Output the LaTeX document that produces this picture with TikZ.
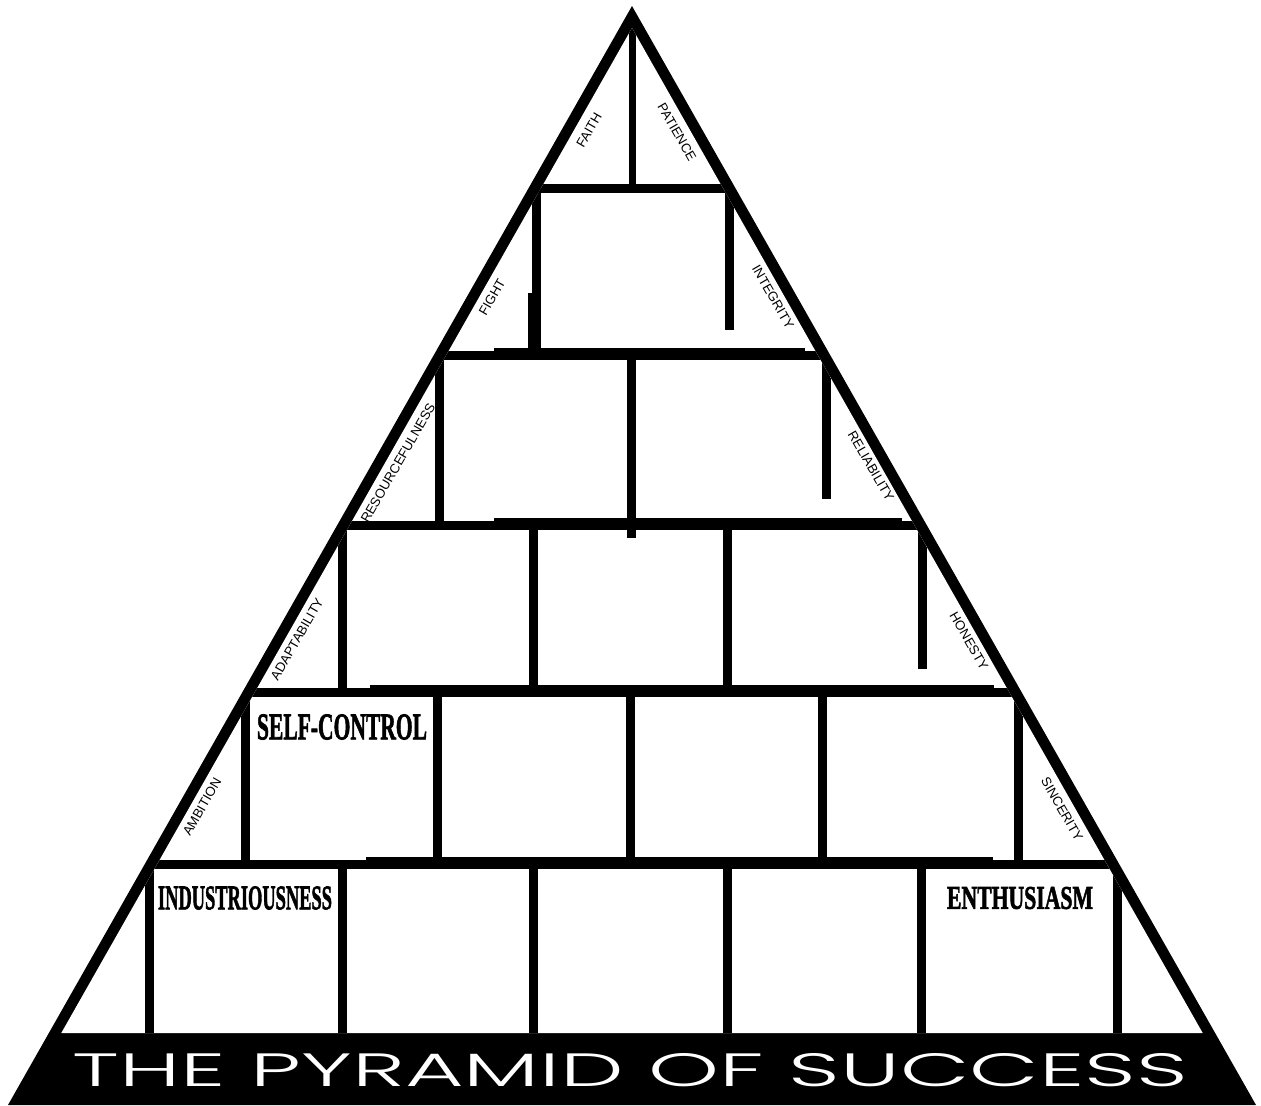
\documentclass[tikz,border=0pt]{standalone}
\usepackage{fontspec}
\setmainfont{Liberation Serif}
\setsansfont{Liberation Sans}
\newfontfamily\pyrtitle{Poppins Light}
\newfontfamily\blockfont{Liberation Serif}[BoldFeatures={FakeBold=2}]
\tikzset{
  wall/.style={line width=1.8mm},
  thickwall/.style={line width=2.4mm},
  trait/.style={font=\sffamily\fontsize{7.5}{8}\selectfont, inner sep=0pt},
  block/.style={inner sep=0pt, font=\blockfont\bfseries},
}

\begin{document}
\begin{tikzpicture}[x=0.2mm,y=-0.2mm]
  \useasboundingbox (0,0) rectangle (1261,1106);
  % frame and base band
  \fill (632,6) -- (8,1105) -- (1256,1105) -- cycle;
  \fill[white] (632,28) -- (61.3,1033) -- (1202.7,1033) -- cycle;
  \begin{scope}
    \clip (632,28) -- (61.3,1033) -- (1202.7,1033) -- cycle;
    % courses
    \foreach \y in {188.5,356,526,693,865}
      \draw[wall] (0,\y) -- (1261,\y);
    \foreach \y/\a/\b in {356/494/805, 526/494/902, 693/370/994, 865/366/993}
      \draw[thickwall] (\a,\y-2) -- (\b,\y-2);
    % joints
    \draw[line width=1.4mm] (632,20) -- (632,188.5);
    \foreach \x/\top/\bot in {536/188.5/356, 729/188.5/330,
        439/356/526, 631/356/538, 826/356/499,
        342/526/693, 533/526/693, 727/526/693, 922/526/669,
        245/693/865, 437/693/865, 630/693/865, 822/693/865, 1018/693/865,
        149/865/1033, 342/865/1033, 533/865/1033, 727/865/1033, 921/865/1033, 1117/865/1033}
      \draw[wall] (\x,\top) -- (\x,\bot);
    \draw[line width=2.2mm] (533,293) -- (533,356);
  \end{scope}
  % side blocks
  \node[trait, rotate=60] (faith) at (589,130) {FAITH};
  \node[trait, rotate=-60] (patience) at (677,132) {PATIENCE};
  \node[trait, rotate=60] (fight) at (492,297) {FIGHT};
  \node[trait, rotate=-60] (integrity) at (773,297) {INTEGRITY};
  \node[trait, rotate=60] (resource) at (398,463) {RESOURCEFULNESS};
  \node[trait, rotate=-60] (reliability) at (871,466) {RELIABILITY};
  \node[trait, rotate=60] (adapt) at (297,639) {ADAPTABILITY};
  \node[trait, rotate=-60] (honesty) at (969,641) {HONESTY};
  \node[trait, rotate=60] (ambition) at (202,807) {AMBITION};
  \node[trait, rotate=-60] (sincerity) at (1062,809) {SINCERITY};
  % named blocks
  \node[block] (selfcontrol) at (342,727) {\resizebox{34mm}{5mm}{SELF-CONTROL}};
  \node[block] (industry) at (245,898) {\resizebox{34.8mm}{4.6mm}{INDUSTRIOUSNESS}};
  \node[block] (enthusiasm) at (1020,898) {\resizebox{29.2mm}{4.4mm}{ENTHUSIASM}};
  % title
  \node[inner sep=0pt, text=white] (title) at (630,1070.5) {\resizebox{223mm}{6.6mm}{\pyrtitle THE PYRAMID OF SUCCESS}};
\end{tikzpicture}
\end{document}
